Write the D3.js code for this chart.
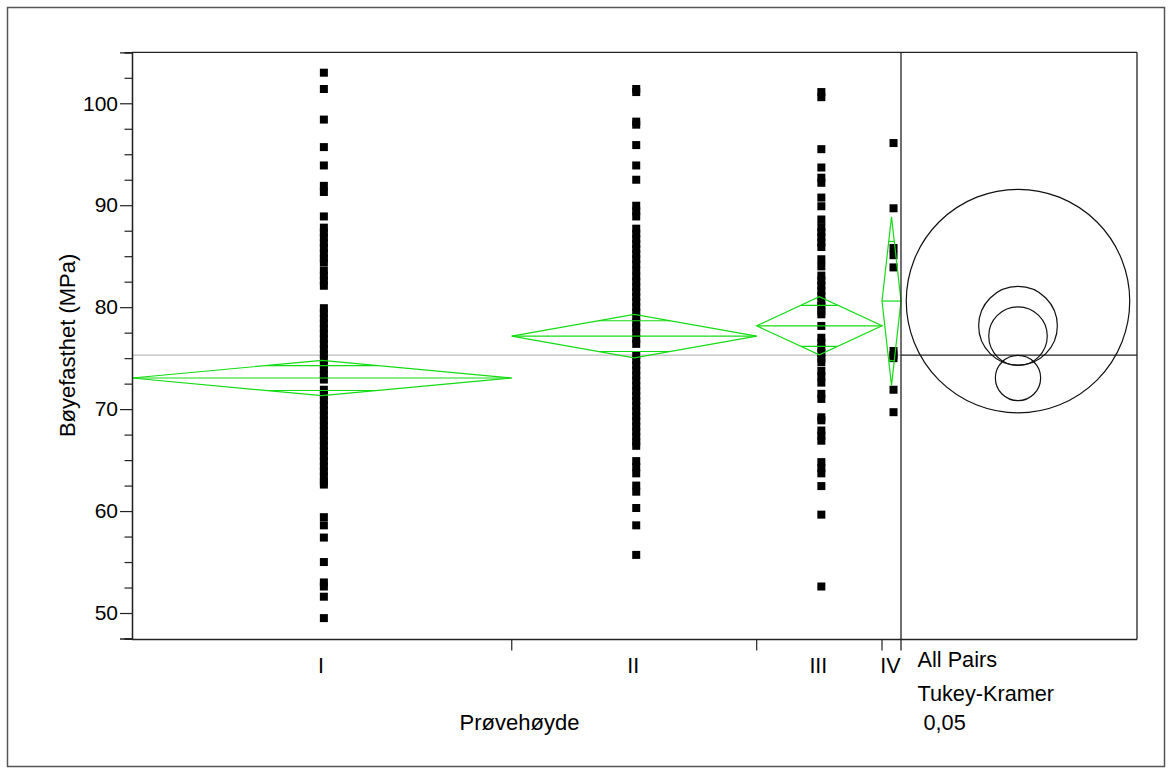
<!DOCTYPE html>
<html>
<head>
<meta charset="utf-8">
<script src="https://cdn.jsdelivr.net/npm/d3@7"></script>
<style>
  html, body { margin: 0; padding: 0; background: #fff; }
  svg { display: block; }
  text { font-family: "Liberation Sans", Arial, sans-serif; fill: #000; }
</style>
</head>
<body>
<svg id="chart" width="1172" height="774"></svg>
<script>
// Group labels and relative group sizes (x band widths are proportional to n)
const groups = ["I", "II", "III", "IV"];
const groupN = [200, 129, 66, 10];

// Observed bending strength (MPa) per sample height group
const valuesI = [103.0, 101.4, 98.4, 95.7, 93.9, 91.9, 91.3, 88.9,
  87.8, 87.3, 86.8, 86.3, 85.8, 85.3, 84.8, 84.4,
  83.6, 83.1, 82.6, 82.1,
  79.9, 79.4, 78.9, 78.4, 77.9, 77.4, 76.9, 76.4, 75.9, 75.4, 74.9, 74.4, 73.9, 73.4, 72.9,
  71.9, 71.4, 70.9, 70.4, 69.9, 69.4, 68.9, 68.4, 67.9, 67.4, 66.9, 66.4, 65.9, 65.4, 64.9,
  64.4, 63.9, 63.4, 62.9, 62.6,
  59.4, 58.6, 57.4, 55.0, 53.0, 52.6, 51.6, 49.5];
const valuesII = [101.4, 101.1, 98.2, 97.9, 95.9, 93.9, 92.5,
  89.95, 89.4, 88.9,
  87.7, 87.2, 86.7, 86.2, 85.7, 85.2, 84.7, 84.2, 83.6,
  83.0, 82.5, 82.0, 81.5, 81.0, 80.5, 80.0, 79.5, 79.0, 78.5, 78.0, 77.5, 76.9, 76.4,
  75.3, 74.8, 74.3, 73.8, 73.3, 72.8, 72.3, 71.8, 71.3, 70.8, 70.3, 69.8, 69.3, 68.8,
  68.3, 67.8, 67.3, 66.8, 66.4,
  64.9, 64.3, 63.7, 62.5, 61.9, 60.3, 58.6, 55.7];
const valuesIII = [101.1, 100.6, 95.5, 93.7, 92.7, 92.2, 90.75, 89.9, 88.6,
  87.85, 87.35, 86.85, 86.35, 85.9,
  84.7, 84.0,
  83.1, 82.6, 82.1, 81.6, 81.1, 80.6, 80.1, 79.6, 79.3,
  78.16,
  77.0, 76.5, 76.0, 75.5, 75.0, 74.6,
  73.75, 73.2, 72.6,
  71.5, 71.0,
  69.2, 68.9,
  67.9, 67.4, 66.9,
  64.8, 64.2, 63.7,
  62.45, 59.65, 52.6];
const valuesIV = [96.1, 89.7, 85.8, 85.1, 83.9, 75.7, 75.3, 75.0, 71.9, 69.7];

// Group means, 95% confidence half-widths and comparison-circle radii
const groupMeans = [73.05, 77.16, 78.17, 80.6];
const groupCI = [1.73, 2.13, 2.85, 8.27];
const circleRadii = [2.22, 2.87, 3.86, 10.96];
const grandMean = 75.29;

// Axis ticks
const yMajorTicks = [50, 60, 70, 80, 90, 100];
const yMinorTicks = [47.5, 52.5, 55, 57.5, 62.5, 65, 67.5, 72.5, 75, 77.5, 82.5, 85, 87.5, 92.5, 95, 97.5, 102.5, 105];
const comparisonLabels = ["All Pairs", "Tukey-Kramer", " 0,05"];

const svg = d3.select("#chart");
const plot = { left: 132, right: 1137, top: 52.3, bottom: 638.5, split: 901 };

const y = d3.scaleLinear().domain([47.5, 105]).range([plot.bottom, plot.top]);
const totalN = d3.sum(groupN);
const xN = d3.scaleLinear().domain([0, totalN]).range([plot.left, plot.split]);
const cum = [0];
groupN.forEach((n, i) => cum.push(cum[i] + n));
const bands = groups.map((g, i) => ({ x0: xN(cum[i]), x1: xN(cum[i + 1]) }));
bands.forEach(b => b.xc = (b.x0 + b.x1) / 2);

// Outer frame
svg.append("rect").attr("x", 7.5).attr("y", 7.5).attr("width", 1157).attr("height", 759)
  .attr("fill", "none").attr("stroke", "#555").attr("stroke-width", 1.5);

// Grand mean reference line
svg.append("line").attr("x1", plot.left).attr("x2", plot.split)
  .attr("y1", y(grandMean)).attr("y2", y(grandMean))
  .attr("stroke", "#bdbdbd").attr("stroke-width", 1.2);

// Data points
const allValues = [valuesI, valuesII, valuesIII, valuesIV];
const sq = 8;
allValues.forEach((vals, i) => {
  svg.append("g").selectAll("rect").data(vals).join("rect")
    .attr("x", bands[i].xc + 2 - sq / 2)
    .attr("y", d => y(d) - sq / 2)
    .attr("width", sq).attr("height", sq)
    .attr("fill", "#000");
});

// Means diamonds
const green = "#14dc14";
const dg = svg.append("g").attr("fill", "none").attr("stroke", green).attr("stroke-width", 1.2);
groups.forEach((g, i) => {
  const b = bands[i];
  const m = groupMeans[i], ci = groupCI[i];
  const pts = [[b.x0, y(m)], [b.xc, y(m + ci)], [b.x1, y(m)], [b.xc, y(m - ci)]];
  dg.append("path").attr("d", d3.line()(pts) + "Z");
  dg.append("line").attr("x1", b.x0).attr("x2", b.x1).attr("y1", y(m)).attr("y2", y(m));
  const off = ci / Math.SQRT2;
  const hw = (b.x1 - b.x0) / 2 * (1 - 1 / Math.SQRT2);
  [m + off, m - off].forEach(v => {
    dg.append("line").attr("x1", b.xc - hw).attr("x2", b.xc + hw)
      .attr("y1", y(v)).attr("y2", y(v));
  });
});

// Plot borders
const ax = svg.append("g").attr("stroke", "#222").attr("stroke-width", 1.3);
ax.append("line").attr("x1", plot.left).attr("x2", plot.right).attr("y1", plot.top).attr("y2", plot.top);
ax.append("line").attr("x1", plot.right).attr("x2", plot.right).attr("y1", plot.top).attr("y2", plot.bottom + 1);
ax.append("line").attr("x1", plot.left).attr("x2", plot.right).attr("y1", plot.bottom + 1).attr("y2", plot.bottom + 1);
ax.append("line").attr("x1", plot.split).attr("x2", plot.split).attr("y1", plot.top).attr("y2", plot.bottom + 12);

// Y axis: minor then major ticks with labels
const yMinor = svg.append("g").attr("transform", `translate(${plot.left},0)`)
  .call(d3.axisLeft(y).tickValues(yMinorTicks).tickSize(7.5).tickFormat(""));
const yMajor = svg.append("g").attr("transform", `translate(${plot.left},0)`)
  .call(d3.axisLeft(y).tickValues(yMajorTicks).tickSize(12).tickPadding(2).tickFormat(d3.format("d")));
[yMinor, yMajor].forEach(g => {
  g.select(".domain").attr("stroke", "#222").attr("stroke-width", 1.3);
  g.selectAll(".tick line").attr("stroke", "#222").attr("stroke-width", 1.2);
});
yMajor.selectAll(".tick text").attr("font-size", 21).attr("font-family", "Liberation Sans, Arial, sans-serif").attr("fill", "#000");

// X axis: boundary ticks between groups and group labels
const xg = svg.append("g").attr("stroke", "#222").attr("stroke-width", 1.2);
bands.slice(0, -1).forEach(b => {
  xg.append("line").attr("x1", b.x1).attr("x2", b.x1).attr("y1", plot.bottom + 1).attr("y2", plot.bottom + 12);
});
svg.append("g").selectAll("text").data(groups).join("text")
  .attr("x", (d, i) => bands[i].xc - 1)
  .attr("y", 665.5).attr("dy", "0.35em")
  .attr("text-anchor", "middle").attr("font-size", 21.5)
  .text(d => d);

// Axis titles
svg.append("text").attr("x", 519.5).attr("y", 722.5).attr("dy", "0.35em")
  .attr("text-anchor", "middle").attr("font-size", 22).text("Prøvehøyde");
svg.append("text").attr("transform", `translate(67,${(plot.top + plot.bottom) / 2}) rotate(-90)`).attr("dy", "0.35em")
  .attr("text-anchor", "middle").attr("font-size", 22).text("Bøyefasthet (MPa)");

// Comparison test labels
const labelY = [659.7, 693, 722.5];
svg.append("g").selectAll("text").data(comparisonLabels).join("text")
  .attr("x", 917.5).attr("y", (d, i) => labelY[i]).attr("dy", "0.35em")
  .attr("font-size", 21.7).attr("xml:space", "preserve").style("white-space", "pre")
  .text(d => d);

// Comparison circles (radius in y units, centred on each group mean)
const cx = (plot.split + plot.right) / 2 - 1;
const pxPerUnit = y(0) - y(1);
svg.append("line").attr("x1", plot.split).attr("x2", plot.right)
  .attr("y1", y(grandMean)).attr("y2", y(grandMean))
  .attr("stroke", "#222").attr("stroke-width", 1.2);
svg.append("g").selectAll("circle").data(groupMeans).join("circle")
  .attr("cx", cx).attr("cy", d => y(d))
  .attr("r", (d, i) => circleRadii[i] * pxPerUnit)
  .attr("fill", "none").attr("stroke", "#111").attr("stroke-width", 1.2);
</script>
</body>
</html>
